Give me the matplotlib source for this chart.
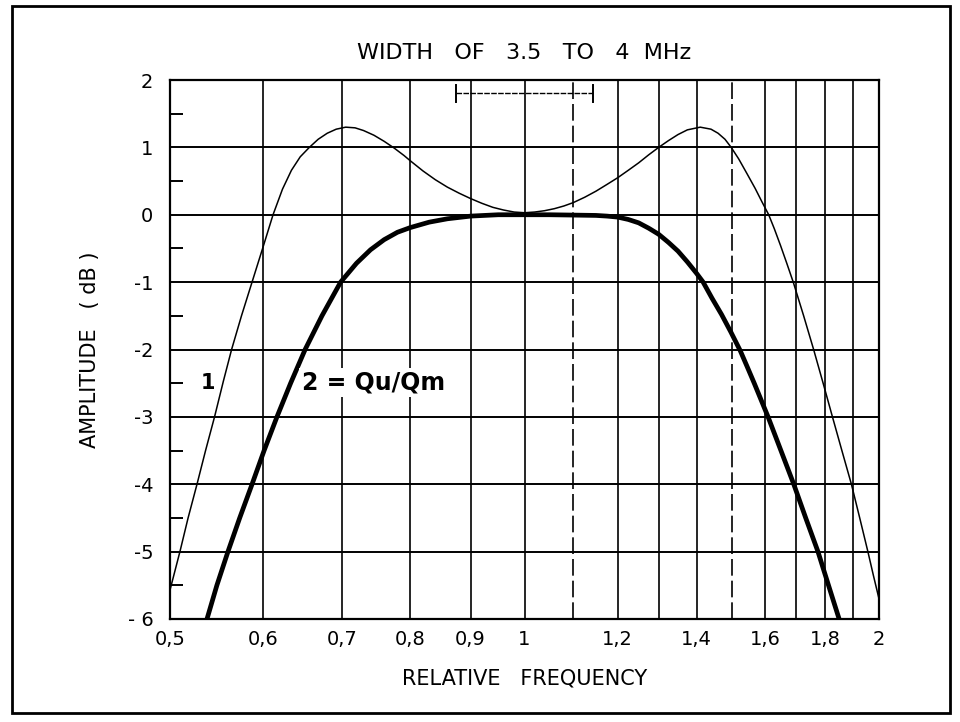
import matplotlib
matplotlib.use("Agg")
import matplotlib.pyplot as plt
from matplotlib.patches import Rectangle

# Data (relative frequency, amplitude dB)
x_q1 = [0.500, 0.5098, 0.518, 0.5271, 0.536, 0.5455, 0.555, 0.564, 0.575, 0.587, 0.600, 0.6116,
        0.623, 0.634, 0.645, 0.6566, 0.668, 0.680, 0.692, 0.705, 0.718, 0.730, 0.745, 0.760, 0.775,
        0.790, 0.800, 0.820, 0.840, 0.860, 0.880, 0.900, 0.920, 0.940, 0.960, 0.980, 1.000, 1.020,
        1.040, 1.060, 1.080, 1.100, 1.125, 1.150, 1.175, 1.200, 1.225, 1.250, 1.275, 1.300, 1.325,
        1.350, 1.375, 1.410, 1.440, 1.460, 1.480, 1.498, 1.520, 1.545, 1.570, 1.590, 1.612, 1.630,
        1.650, 1.670, 1.692, 1.726, 1.760, 1.793, 1.826, 1.860, 1.895, 1.926, 1.957, 1.978, 2.000]
y_q1 = [-5.57, -5.0, -4.5, -4.0, -3.5, -3.0, -2.47, -2.0, -1.5, -1.0, -0.47, 0.0,
        0.38, 0.66, 0.86, 1.0, 1.12, 1.21, 1.27, 1.30, 1.29, 1.25, 1.18, 1.09, 0.99,
        0.88, 0.80, 0.65, 0.52, 0.41, 0.32, 0.24, 0.17, 0.11, 0.07, 0.04, 0.03, 0.04,
        0.06, 0.09, 0.13, 0.18, 0.26, 0.35, 0.45, 0.55, 0.66, 0.77, 0.89, 1.0, 1.10,
        1.19, 1.26, 1.30, 1.27, 1.21, 1.12, 1.0, 0.83, 0.61, 0.39, 0.20, 0.0, -0.21,
        -0.46, -0.72, -1.01, -1.5, -2.0, -2.5, -3.0, -3.5, -4.0, -4.5, -5.0, -5.35, -5.7]

x_q2 = [0.5375, 0.548, 0.560, 0.573, 0.587, 0.601, 0.6163, 0.633, 0.6512, 0.673, 0.698, 0.720,
        0.740, 0.760, 0.780, 0.800, 0.830, 0.860, 0.900, 0.950, 1.000, 1.050, 1.100, 1.150,
        1.175, 1.200, 1.225, 1.250, 1.275, 1.300, 1.325, 1.350, 1.375, 1.400, 1.418, 1.443,
        1.470, 1.497, 1.525, 1.546, 1.567, 1.610, 1.651, 1.693, 1.733, 1.775, 1.812, 1.850]
y_q2 = [-6.0, -5.5, -5.0, -4.5, -4.0, -3.5, -3.0, -2.5, -2.0, -1.5, -1.0, -0.72,
        -0.52, -0.37, -0.26, -0.19, -0.11, -0.06, -0.02, 0.0, 0.0, 0.0, -0.005, -0.01,
        -0.02, -0.035, -0.07, -0.12, -0.20, -0.29, -0.41, -0.54, -0.70, -0.87, -1.0, -1.24,
        -1.48, -1.74, -2.02, -2.26, -2.5, -3.0, -3.5, -4.0, -4.5, -5.0, -5.5, -6.0]

band = [0.875, 1.144]
band_level = 1.8

x_ticks = [0.5, 0.6, 0.7, 0.8, 0.9, 1.0, 1.2, 1.4, 1.6, 1.8, 2.0]
x_tick_labels = ["0,5", "0,6", "0,7", "0,8", "0,9", "1", "1,2", "1,4", "1,6", "1,8", "2"]
x_grid_solid = [0.6, 0.7, 0.8, 0.9, 1.0, 1.2, 1.3, 1.4, 1.6, 1.7, 1.8, 1.9]
x_grid_dashed = [1.1, 1.5]
y_ticks = [2, 1, 0, -1, -2, -3, -4, -5, -6]
y_tick_labels = ["2", "1", "0", "-1", "-2", "-3", "-4", "-5", "- 6"]
y_minor = [1.5, 0.5, -0.5, -1.5, -2.5, -3.5, -4.5, -5.5]

plt.rcParams['font.family'] = ['DejaVu Sans']

fig = plt.figure(figsize=(9.6, 7.22), dpi=100)
ax = fig.add_axes([170 / 960, 1 - 619 / 722, 709 / 960, 539 / 722])

ax.set_xscale('log')
ax.set_xlim(0.5, 2.0)
ax.set_ylim(-6, 2)

for xv in x_grid_solid:
    ax.axvline(xv, color='black', lw=1.2, zorder=1)
for xv in x_grid_dashed:
    ax.axvline(xv, color='black', lw=1.2, ls=(0, (10, 3)), zorder=1)
for yv in range(-5, 2):
    ax.axhline(yv, color='black', lw=1.4, zorder=1)

ax.plot(x_q1, y_q1, color='black', lw=1.1, zorder=3, solid_joinstyle='round')
ax.plot(x_q2, y_q2, color='black', lw=3.4, zorder=4, solid_joinstyle='round',
        solid_capstyle='butt')

# band marker
ax.plot(band, [band_level, band_level], color='black', lw=1.0, ls=(0, (4, 1)), zorder=3)
for b in band:
    ax.plot([b, b], [band_level - 0.13, band_level + 0.13], color='black', lw=1.4, zorder=3)

ax.text(0.538, -2.49, "1", fontsize=15, fontweight='bold', ha='center', va='center',
        bbox=dict(facecolor='white', edgecolor='none', pad=1), zorder=5)
ax.text(0.647, -2.49, "2 = Qu/Qm", fontsize=17, fontweight='bold', ha='left', va='center',
        bbox=dict(facecolor='white', edgecolor='none', pad=2), zorder=5)

ax.set_xticks(x_ticks)
ax.set_xticklabels(x_tick_labels, fontsize=14)
ax.xaxis.set_minor_locator(matplotlib.ticker.NullLocator())
ax.tick_params(axis='x', which='both', length=0, pad=8)
ax.set_yticks(y_ticks)
ax.set_yticklabels(y_tick_labels, fontsize=14)
ax.set_yticks(y_minor, minor=True)
ax.tick_params(axis='y', which='major', length=0, pad=12)
ax.tick_params(axis='y', which='minor', direction='in', length=9, width=1.4)

for s in ax.spines.values():
    s.set_linewidth(1.6)

ax.set_xlabel("RELATIVE   FREQUENCY", fontsize=15, labelpad=14)
ax.set_ylabel("AMPLITUDE   ( dB )", fontsize=15, labelpad=20)
ax.set_title("WIDTH   OF   3.5   TO   4  MHz", fontsize=16, pad=15)

fig.patches.append(Rectangle((0.012, 0.013), 0.978, 0.978, transform=fig.transFigure,
                             fill=False, edgecolor='black', lw=2))

fig.savefig("out.png", dpi=100)
